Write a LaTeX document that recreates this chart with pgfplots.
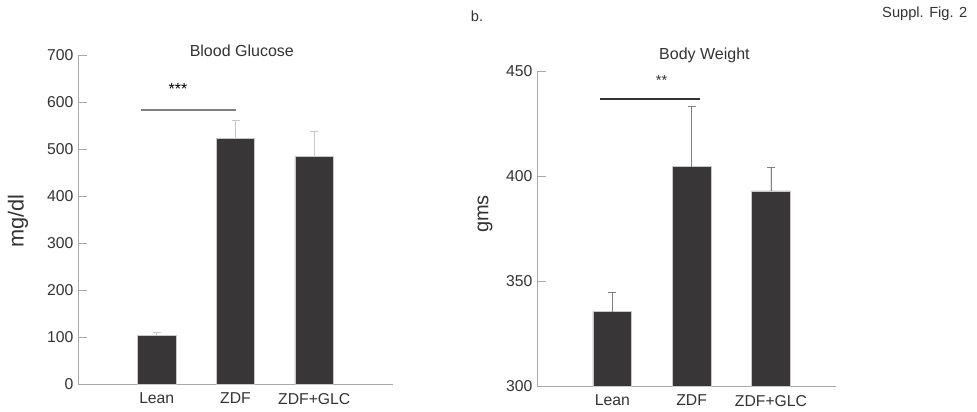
\documentclass[border=0pt]{standalone}
\usepackage{fontspec}
\setmainfont{Liberation Sans}
\usepackage{pgfplots}
\pgfplotsset{compat=1.18}
\definecolor{barfill}{HTML}{383637}
\definecolor{baredge}{HTML}{C8C8C8}
\definecolor{axgray}{HTML}{A8A8A8}
\definecolor{txt}{HTML}{333333}
\pgfplotsset{
  panel/.style={
    scale only axis,
    axis x line*=bottom, axis y line*=left,
    axis line style={axgray, -},
    tick align=inside, major tick length=6.75pt,
    ytick style={axgray},
    xtick={1,2,3}, xticklabels={Lean,ZDF,ZDF+GLC},
    x tick style={draw=none},
    extra x tick style={tick style={draw=axgray}, xticklabels={}},
    /pgf/number format/assume math mode=true,
    tick label style={font=\fontsize{11.8}{13}\selectfont, text=txt},
    xticklabel style={yshift=3.5pt},
    title style={font=\fontsize{12}{14}\selectfont, text=txt},
    ybar, bar shift=0pt, bar width=0.49,
    clip=false,
  },
}
\begin{document}
\begin{tikzpicture}
\useasboundingbox (0,0) rectangle (732.75pt,308.25pt);
% a. Blood Glucose
\begin{axis}[panel,
  at={(58.5pt,20.25pt)}, anchor=origin,
  width=236.25pt, height=246.75pt,
  xmin=0, xmax=4, ymin=0, ymax=700,
  ytick={0,100,...,700},
  extra x ticks={4},
  title={Blood Glucose}, title style={at={(0.52,1.0)}, yshift=-11pt},
]
\addplot[fill=barfill, draw=baredge, line width=0.6pt,
  error bars/.cd, y dir=plus, y explicit,
  error bar style={draw=baredge, line width=0.6pt},
  error mark options={rotate=90, mark size=3pt, draw=baredge}]
  coordinates {(1,104) +- (0,7) (2,523) +- (0,38) (3,484) +- (0,54)};
\addplot[ybar=false, sharp plot, draw=gray, line width=1pt, mark=none]
  coordinates {(0.8,583) (2.0,583)};
\node[font=\fontsize{12}{14}\selectfont] at (axis cs:1.27,628) {***};
\end{axis}
% b. Body Weight
\begin{axis}[panel,
  at={(402.75pt,18.75pt)}, anchor=origin,
  width=224.25pt, height=236.25pt,
  xmin=0.05, xmax=3.82, ymin=300, ymax=450,
  ytick={300,350,400,450},
  extra x ticks={3.82},
  title={Body Weight}, title style={at={(0.56,1.0)}, yshift=-3.5pt},
]
\addplot[fill=barfill, draw=baredge, line width=0.6pt,
  error bars/.cd, y dir=plus, y explicit,
  error bar style={draw=gray, line width=0.6pt},
  error mark options={rotate=90, mark size=3pt, draw=gray}]
  coordinates {(1,335.4) +- (0,9.2) (2,404.4) +- (0,28.8) (3,392.9) +- (0,11.2)};
\addplot[ybar=false, sharp plot, draw=black!80, line width=1pt, mark=none]
  coordinates {(0.85,436.7) (2.11,436.7)};
\node[font=\fontsize{11}{13}\selectfont, text=txt] at (axis cs:1.62,445.5) {**};
\end{axis}
\node[font=\fontsize{16.3}{18}\selectfont, text=txt, rotate=90] at (13.5pt,142.5pt) {mg/dl};
\node[font=\fontsize{15}{17}\selectfont, text=txt, rotate=90] at (363.75pt,147.75pt) {gms};
\node[font=\fontsize{11}{13}\selectfont, text=txt] at (357.75pt,296.25pt) {b.};
\node[font=\fontsize{11}{13}\selectfont, text=txt, anchor=east] at (729pt,297.75pt) {Suppl. Fig. 2};
\end{tikzpicture}
\end{document}
